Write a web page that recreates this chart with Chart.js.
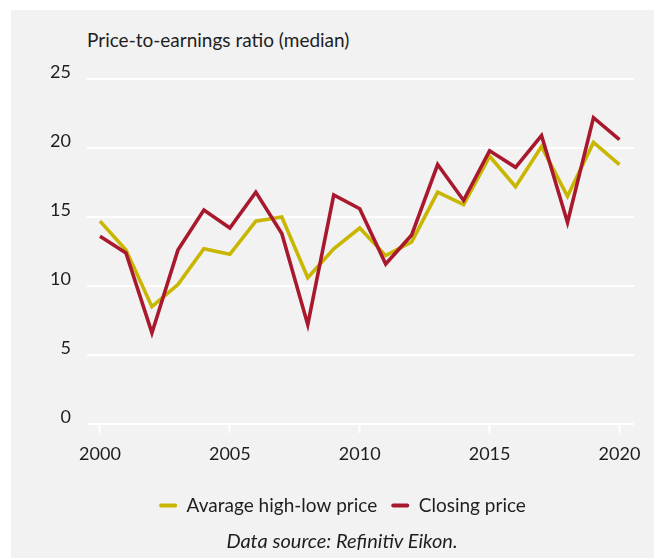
<!DOCTYPE html>
<html>
<head>
<meta charset="utf-8">
<script src="https://cdn.jsdelivr.net/npm/chart.js@4.4.1/dist/chart.umd.min.js"></script>
<style>
  html, body { margin: 0; padding: 0; background: #ffffff; width: 662px; height: 558px; overflow: hidden; }
  #panel { position: absolute; left: 11px; top: 10px; width: 643px; height: 548px; background: #f2f2f2; }
  #title { position: absolute; left: 87px; top: 30px; font: 19px Lato, sans-serif; line-height: 19px; color: #1e1e1e; white-space: nowrap; }
  #source { position: absolute; left: 142px; width: 400px; top: 530px; text-align: center; font: italic 20px Lato, sans-serif; line-height: 20px; color: #1e1e1e; white-space: nowrap; }
  #wrap { position: absolute; left: 11px; top: 60px; width: 643px; height: 474px; }
</style>
</head>
<body>
<div id="panel"></div>
<div id="title">Price-to-earnings ratio (median)</div>
<div id="wrap"><canvas id="c" width="643" height="474"></canvas></div>
<div id="source">Data source: Refinitiv Eikon.</div>
<script>
const YEARS = [2000,2001,2002,2003,2004,2005,2006,2007,2008,2009,2010,2011,2012,2013,2014,2015,2016,2017,2018,2019,2020];
const AVG_HIGH_LOW = [14.7,12.6,8.5,10.1,12.7,12.3,14.7,15.0,10.6,12.7,14.2,12.2,13.2,16.8,15.9,19.4,17.2,20.1,16.5,20.4,18.8];
const CLOSING = [13.6,12.4,6.6,12.6,15.5,14.2,16.8,13.8,7.2,16.6,15.6,11.6,13.7,18.8,16.2,19.8,18.6,20.9,14.6,22.2,20.6];
const X_TICKS = [2000,2005,2010,2015,2020];
const Y_TICKS = [0,5,10,15,20,25];
const SERIES_NAMES = ['Avarage high-low price','Closing price'];

const YELLOW = '#c9b600';
const RED = '#a8192e';
const TEXT = '#1e1e1e';
const TICK_FONT = { family: 'Lato, sans-serif', size: 18 };
const LEGEND_FONT = { family: 'Lato, sans-serif', size: 19 };

const toPoints = vals => vals.map((v, i) => ({ x: YEARS[i], y: v }));
const noScalePadding = s => { s.paddingTop = 0; s.paddingBottom = 0; s.paddingLeft = 0; s.paddingRight = 0; };

new Chart(document.getElementById('c'), {
  type: 'line',
  data: {
    datasets: [
      { label: SERIES_NAMES[0], data: toPoints(AVG_HIGH_LOW), borderColor: YELLOW, backgroundColor: YELLOW,
        borderWidth: 3.6, pointRadius: 0, tension: 0, borderJoinStyle: 'miter', order: 1 },
      { label: SERIES_NAMES[1], data: toPoints(CLOSING), borderColor: RED, backgroundColor: RED,
        borderWidth: 3.6, pointRadius: 0, tension: 0, borderJoinStyle: 'miter', order: 0 }
    ]
  },
  options: {
    responsive: false,
    animation: false,
    events: [],
    layout: { padding: { left: 40, right: 20, top: 19, bottom: 9 } },
    plugins: {
      tooltip: { enabled: false },
      title: { display: false },
      legend: {
        display: true,
        position: 'bottom',
        labels: {
          color: TEXT,
          font: LEGEND_FONT,
          boxWidth: 18,
          boxHeight: 4,
          useBorderRadius: true,
          borderRadius: 2,
          padding: 14,
          generateLabels: chart => chart.data.datasets.map((ds, i) => ({
            text: ds.label, fillStyle: ds.borderColor, strokeStyle: ds.borderColor,
            lineWidth: 0, hidden: false, datasetIndex: i, borderRadius: 2, fontColor: TEXT
          }))
        }
      }
    },
    scales: {
      x: {
        type: 'linear',
        min: 1999.5,
        max: 2020.56,
        afterBuildTicks: s => { s.ticks = X_TICKS.map(v => ({ value: v })); },
        afterFit: s => { s.height = 58; noScalePadding(s); },
        border: { display: false },
        grid: { display: true, drawOnChartArea: false, drawTicks: true, tickLength: 9, tickColor: '#ffffff', tickWidth: 2 },
        ticks: { color: TEXT, font: TICK_FONT, padding: 10, maxRotation: 0, autoSkip: false, callback: v => String(v) }
      },
      y: {
        min: 0,
        max: 25,
        afterBuildTicks: s => { s.ticks = Y_TICKS.map(v => ({ value: v })); },
        afterFit: s => { s.width = 36; noScalePadding(s); },
        border: { display: false },
        grid: { color: '#ffffff', lineWidth: 2, drawTicks: false },
        ticks: { color: TEXT, font: TICK_FONT, padding: 16, labelOffset: -7 }
      }
    }
  }
});
</script>
</body>
</html>
